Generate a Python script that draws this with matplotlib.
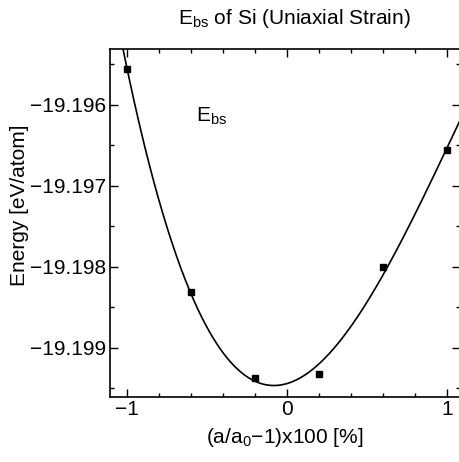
import numpy as np
import matplotlib
matplotlib.use("Agg")
import matplotlib.pyplot as plt

plt.rcParams['font.family'] = ['Liberation Sans', 'DejaVu Sans']
plt.rcParams['mathtext.fontset'] = 'custom'
plt.rcParams['mathtext.rm'] = 'Liberation Sans'
plt.rcParams['mathtext.it'] = 'Liberation Sans:italic'

# strain (%) and band-structure energy (eV/atom)
strain = [-1.0, -0.6, -0.2, 0.2, 0.6, 1.0]
energy = [-19.19556, -19.19831, -19.19938, -19.19932, -19.19800, -19.19656]

xticks = [-1, 0, 1]
yticks = [-19.196, -19.197, -19.198, -19.199]

# cubic fit through the points
coef = np.polyfit(strain, energy, 3)
xs = np.linspace(-1.12, 1.1, 400)
ys = np.polyval(coef, xs)

fig = plt.figure(figsize=(4.59, 4.62), dpi=100)
ax = fig.add_axes([110 / 459, 65 / 462, 350 / 459, 348 / 462])

ax.plot(xs, ys, color='black', lw=1.2)
ax.plot(strain, energy, 's', color='black', ms=4)

ax.set_xlim(-1.106, 1.081)
ax.set_ylim(-19.19961, -19.19531)
ax.set_xticks(xticks)
ax.set_xticks(np.arange(-1.0, 1.01, 0.2), minor=True)
ax.set_yticks(yticks)
ax.set_yticks(np.arange(-19.1995, -19.1954, 0.0005), minor=True)
ax.set_yticklabels(['\u221219.196', '\u221219.197', '\u221219.198', '\u221219.199'])
ax.set_xticklabels(['\u22121', '0', '1'])

ax.tick_params(which='both', direction='in', top=True, right=True,
               labelsize=15, width=1.0, pad=3)
ax.tick_params(axis='x', pad=2)
ax.tick_params(which='major', length=6)
ax.tick_params(which='minor', length=3)
for s in ax.spines.values():
    s.set_linewidth(1.2)

ax.text(-0.57, -19.19614, r'E$_\mathrm{bs}$', fontsize=15, ha='left', va='center')

ax.set_xlabel(r'(a/a$_\mathrm{0}$$-$1)x100 [%]', fontsize=15, labelpad=5)
ax.set_ylabel('Energy [eV/atom]', fontsize=15)
ax.yaxis.set_label_coords(-0.23, 0.552)
fig.text(294 / 459, 1 - 18 / 462, r'E$_\mathrm{bs}$ of Si (Uniaxial Strain)',
         fontsize=15, ha='center', va='center')

fig.savefig('out.png', dpi=100)
